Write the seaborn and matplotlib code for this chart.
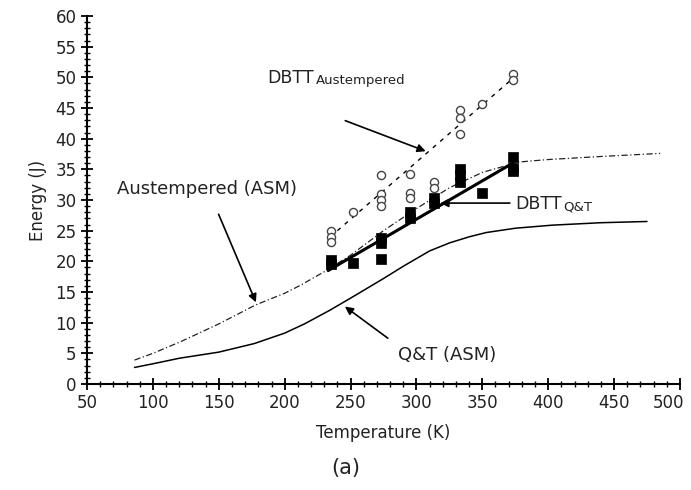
import numpy as np
import pandas as pd
import matplotlib
matplotlib.use("Agg")
import matplotlib.pyplot as plt
import matplotlib.transforms as mtransforms
import seaborn as sns
from matplotlib.ticker import MultipleLocator

# ---- data ----
qt_T = [235, 235, 252, 273, 273, 273, 295, 295, 313, 313, 333, 333, 333, 350, 373, 373, 373]
qt_E = [20.2, 19.6, 19.7, 23.8, 23.0, 20.4, 28.0, 27.1, 30.3, 29.5, 35.0, 34.0, 33.0, 31.2, 37.0, 35.3, 34.7]

aus_T = [235, 235, 235, 252, 273, 273, 273, 273, 295, 295, 295, 313, 313, 333, 333, 333, 350, 373, 373]
aus_E = [25.0, 24.0, 23.2, 28.0, 34.0, 31.0, 30.0, 29.0, 34.3, 31.2, 30.3, 33.0, 32.0, 44.6, 43.4, 40.8, 45.7, 50.6, 49.6]

qt_fit_T = [233, 373]
qt_fit_E = [18.5, 36.0]

aus_fit_T = [240, 373]
aus_fit_E = [25.0, 49.8]

aus_asm_T = [86, 100, 121, 150, 178, 200, 212, 230, 250, 275, 300, 325, 350, 378, 400, 440, 485]
aus_asm_E = [3.9, 5.0, 6.9, 9.8, 12.9, 14.8, 16.1, 18.3, 21.0, 25.0, 28.6, 32.0, 34.5, 36.2, 36.6, 37.1, 37.6]

qt_asm_T = [86, 100, 120, 150, 177, 200, 215, 234, 250, 275, 290, 310, 325, 340, 353, 375, 403, 440, 475]
qt_asm_E = [2.7, 3.3, 4.2, 5.2, 6.6, 8.3, 9.8, 12.0, 14.0, 17.2, 19.2, 21.7, 23.0, 24.0, 24.7, 25.4, 25.9, 26.3, 26.5]

x_ticks = [50, 100, 150, 200, 250, 300, 350, 400, 450, 500]
y_ticks = [0, 5, 10, 15, 20, 25, 30, 35, 40, 45, 50, 55, 60]

sns.set_theme(style="white")
plt.rcParams['font.family'] = ['DejaVu Sans']

fig = plt.figure(figsize=(6.91, 4.90), dpi=100)
ax = fig.add_axes([0.126, 0.2163, 0.858, 0.751])

# curves
sns.lineplot(x=aus_asm_T, y=aus_asm_E, ax=ax, color="#222222", lw=0.9,
             linestyle=(0, (5, 2, 1, 2)), sort=False)
sns.lineplot(x=qt_asm_T, y=qt_asm_E, ax=ax, color="black", lw=1.1, sort=False)
sns.lineplot(x=aus_fit_T, y=aus_fit_E, ax=ax, color="black", lw=1.0,
             linestyle=(0, (3, 4)), sort=False)
sns.lineplot(x=qt_fit_T, y=qt_fit_E, ax=ax, color="black", lw=2.2, sort=False)

# data points
sns.scatterplot(x=aus_T, y=aus_E, ax=ax, marker="o", s=34,
                facecolor="white", edgecolor="#444444", linewidth=1.0, zorder=4)
sns.scatterplot(x=qt_T, y=qt_E, ax=ax, marker="s", s=55,
                color="black", edgecolor="black", linewidth=0.5, zorder=5)

ax.set_xlim(50, 500)
ax.set_ylim(0, 60)
ax.set_xticks(x_ticks)
ax.set_yticks(y_ticks)
ax.set_xticklabels([str(v) for v in x_ticks])
ax.set_yticklabels([str(v) for v in y_ticks])
ax.xaxis.set_minor_locator(MultipleLocator(10))
ax.yaxis.set_minor_locator(MultipleLocator(1))
ax.tick_params(axis="both", which="major", direction="inout", length=9, width=1.3,
               labelsize=12, color="black", labelcolor="#222222",
               bottom=True, left=True, pad=3)
ax.tick_params(axis="both", which="minor", direction="inout", length=5, width=1.0,
               color="black", bottom=True, left=True)
for s in ["top", "right"]:
    ax.spines[s].set_visible(False)
for s in ["left", "bottom"]:
    ax.spines[s].set_color("black")
    ax.spines[s].set_linewidth(1.5)

# keep the last x tick label inside the canvas
last = ax.get_xticklabels()[-1]
last.set_transform(last.get_transform() + mtransforms.ScaledTranslation(-8 / 72, 0, fig.dpi_scale_trans))

ax.set_xlabel("Temperature (K)", fontsize=12, color="#222222", labelpad=8)
ax.set_ylabel("Energy (J)", fontsize=12, color="#222222", labelpad=6)
fig.text(0.5, 0.045, "(a)", ha="center", va="center", fontsize=15, color="#222222")

arrow = dict(arrowstyle="-|>", color="black", lw=1.2, mutation_scale=12)


def sub_label(x, y, main, sub):
    t = ax.text(x, y, main, fontsize=12.5, ha="left", va="center", color="#222222")
    ax.annotate(sub, xy=(1.0, -0.02), xycoords=t, xytext=(1, 0), textcoords="offset points",
                fontsize=9.5, ha="left", va="bottom", color="#222222")


sub_label(187, 49.9, "DBTT", "Austempered")
ax.annotate("", xy=(309, 37.8), xytext=(244, 43.1), arrowprops=arrow)

ax.text(72.8, 31.8, "Austempered (ASM)", fontsize=13, ha="left", va="center", color="#222222")
ax.annotate("", xy=(179, 12.9), xytext=(149, 28.1), arrowprops=arrow)

ax.text(286, 4.7, "Q&T (ASM)", fontsize=13, ha="left", va="center", color="#222222")
ax.annotate("", xy=(244, 12.9), xytext=(280, 7.2), arrowprops=arrow)

sub_label(375, 29.3, "DBTT", "Q&T")
ax.annotate("", xy=(316, 29.5), xytext=(373, 29.5), arrowprops=arrow)

fig.savefig("out.png", dpi=100)
